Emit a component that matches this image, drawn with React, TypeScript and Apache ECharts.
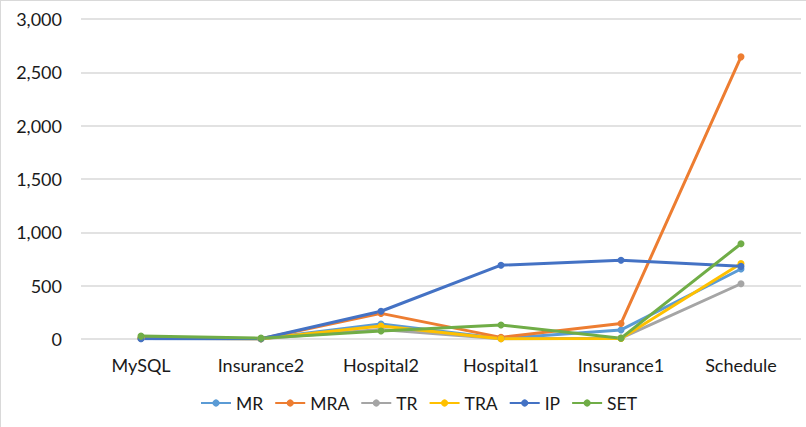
import React, { useEffect, useRef } from "react";
import * as echarts from "echarts";

const categories = ["MySQL", "Insurance2", "Hospital2", "Hospital1", "Insurance1", "Schedule"];
const seriesNames = ["MR", "MRA", "TR", "TRA", "IP", "SET"];
const mr = [5, 3, 140, 5, 85, 656];
const mra = [8, 3, 240, 15, 146, 2645];
const tr = [5, 3, 90, 3, 8, 518];
const tra = [10, 3, 122, 2, 5, 708];
const ip = [2, 3, 260, 692, 738, 681];
const set = [27, 8, 75, 132, 8, 893];
const seriesData = [mr, mra, tr, tra, ip, set];
const colors = ["#5B9BD5", "#ED7D31", "#A5A5A5", "#FFC000", "#4472C4", "#70AD47"];

const FONT = "Lato, 'Open Sans', sans-serif";
const TEXT = "#1a1a1a";

export default function App() {
  const ref = useRef<HTMLDivElement>(null);
  useEffect(() => {
    if (!ref.current) return;
    const chart = echarts.init(ref.current, undefined, { renderer: "svg" });
    chart.setOption({
      animation: false,
      backgroundColor: "#ffffff",
      color: colors,
      textStyle: { fontFamily: FONT },
      grid: { left: 81, right: 5, top: 19, bottom: 88, containLabel: false },
      legend: {
        bottom: 10,
        left: 195,
        itemWidth: 30,
        itemHeight: 9,
        itemGap: 11,
        textStyle: { fontSize: 17.5, color: TEXT, fontFamily: FONT },
        data: seriesNames,
      },
      xAxis: {
        type: "category",
        data: categories,
        boundaryGap: true,
        axisLine: { show: false },
        axisTick: { show: false },
        axisLabel: { fontSize: 18, color: TEXT, margin: 17, fontFamily: FONT },
      },
      yAxis: {
        type: "value",
        min: 0,
        max: 3000,
        interval: 500,
        axisLine: { show: false },
        axisTick: { show: false },
        splitLine: { lineStyle: { color: "#d9d9d9", width: 1.5 } },
        axisLabel: {
          fontSize: 18,
          color: TEXT,
          margin: 19,
          fontFamily: FONT,
          formatter: (v: number) => v.toLocaleString("en-US"),
        },
      },
      graphic: [
        { type: "line", shape: { x1: 0.5, y1: 0, x2: 0.5, y2: 427 }, style: { stroke: "#d9d9d9", lineWidth: 1 } },
        { type: "line", shape: { x1: 0, y1: 0.5, x2: 806, y2: 0.5 }, style: { stroke: "#d9d9d9", lineWidth: 1 } },
      ],
      series: seriesNames.map((name, i) => ({
        name,
        type: "line",
        data: seriesData[i],
        symbol: "circle",
        symbolSize: 7,
        lineStyle: { width: 3, color: colors[i] },
        itemStyle: { color: colors[i] },
      })),
    });
    return () => chart.dispose();
  }, []);
  return (
    <div
      ref={ref}
      style={{ position: "absolute", left: 0, top: 0, width: 806, height: 427 }}
    />
  );
}
